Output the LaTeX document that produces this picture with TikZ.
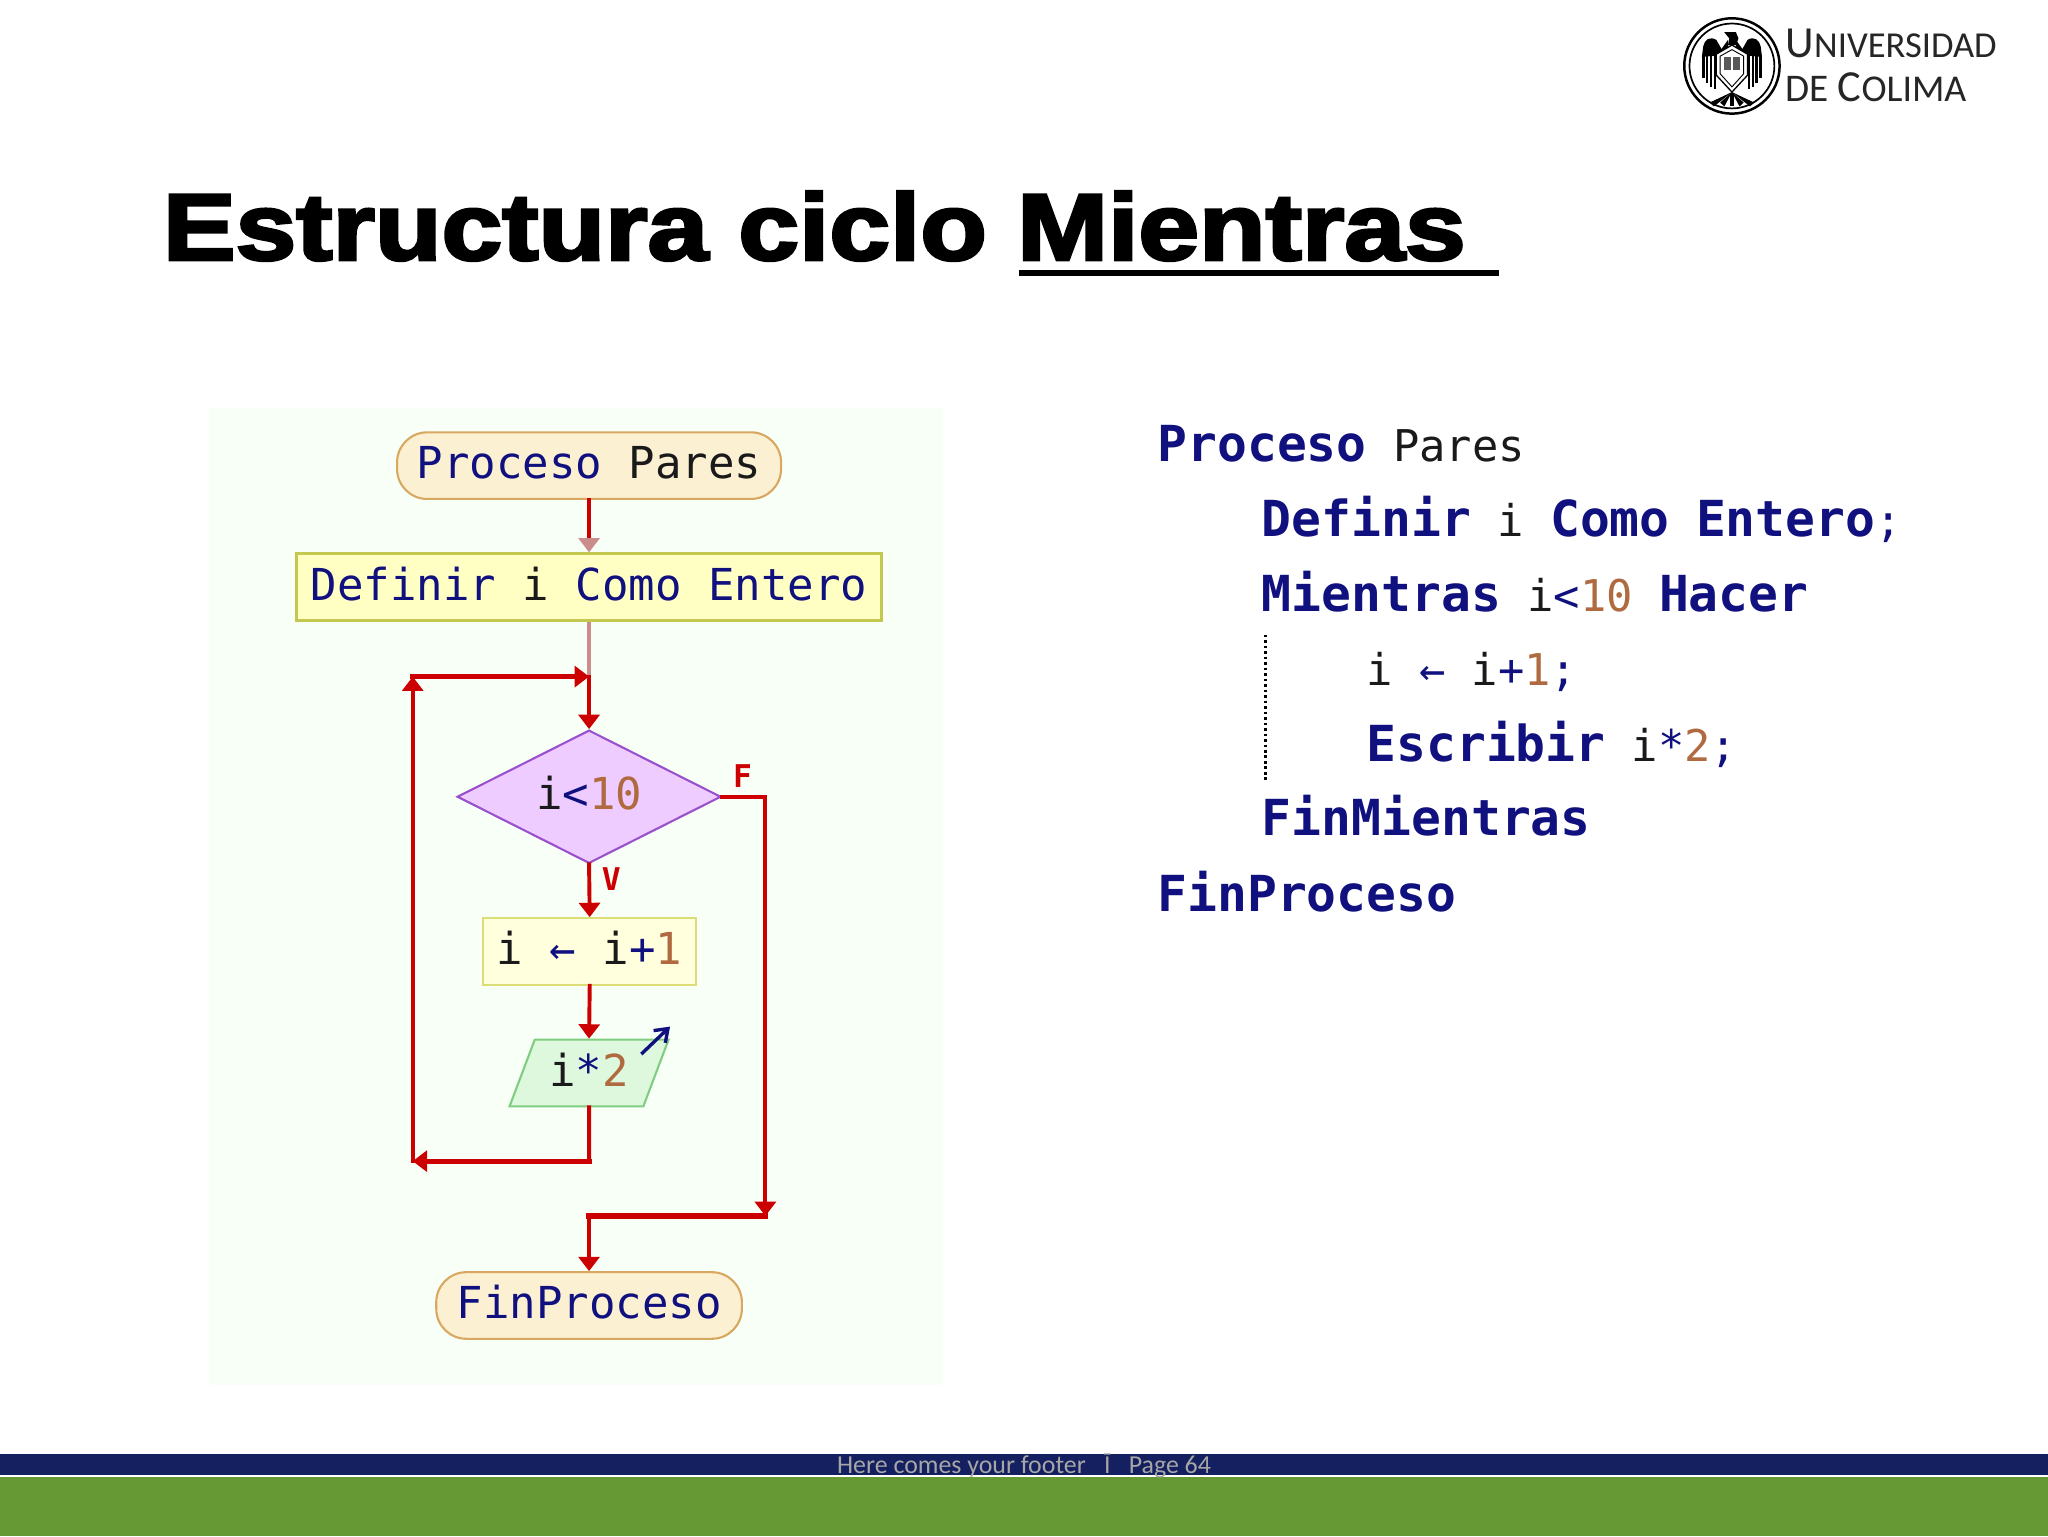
\documentclass[tikz,border=0pt]{standalone}
\usepackage{fontspec}
\usepackage{graphicx}
\usetikzlibrary{arrows.meta,shapes.geometric}
\setmainfont{Liberation Sans}
\newfontfamily\titlefont{Liberation Sans}[BoldFeatures={FakeBold=2.9}]
\newfontfamily\flowfont{DejaVu Sans Mono}
\newfontfamily\footfont{Carlito}
\newfontfamily\logofont{Carlito}
\definecolor{kw}{HTML}{10107F}
\definecolor{idn}{HTML}{1A1A1A}
\definecolor{num}{HTML}{B06A40}
\definecolor{lnk}{HTML}{CC0000}
\definecolor{pale}{HTML}{CB8C8C}
\definecolor{panel}{HTML}{F7FFF7}
\definecolor{navybar}{HTML}{142060}
\definecolor{greenbar}{HTML}{669933}
\definecolor{termfill}{HTML}{FBF0D2}
\definecolor{termline}{HTML}{D8A860}
\definecolor{deffill}{HTML}{FFFFC4}
\definecolor{defline}{HTML}{C4C850}
\definecolor{condfill}{HTML}{EECCFF}
\definecolor{condline}{HTML}{9A50CC}
\definecolor{incfill}{HTML}{FFFFDD}
\definecolor{incline}{HTML}{DDDD77}
\definecolor{outfill}{HTML}{DDF8DD}
\definecolor{outline}{HTML}{80CC80}
\newcommand{\K}[1]{\textcolor{kw}{#1}}
\newcommand{\I}[1]{\textcolor{idn}{#1}}
\newcommand{\N}[1]{\textcolor{num}{#1}}
\newcommand{\RG}{\mdseries\fontsize{33.5}{38}\selectfont}
\newcommand{\BD}{\bfseries\fontsize{38}{38}\selectfont}
\tikzset{
  x=1pt,y=-1pt,
  box/.style={draw,line width=1.6pt,inner sep=0pt,text height=28pt,text depth=8pt,font=\flowfont\fontsize{33.7}{36}\selectfont,text=kw},
  terminal/.style={box,rectangle,rounded corners=23pt,fill=termfill,draw=termline,minimum height=51pt},
  link/.style={draw=lnk,line width=3pt,line cap=rect},
  linkh/.style={draw=lnk,line width=4pt,line cap=rect},
  tip/.style={-{Triangle[length=11pt,width=16pt,fill=lnk,color=lnk]}},
  ptip/.style={-{Triangle[length=11pt,width=16pt,fill=pale,color=pale]}},
  lab/.style={text=lnk,font=\flowfont\bfseries\fontsize{24}{26}\selectfont,inner sep=0pt},
  codeline/.style={anchor=base west,inner sep=0pt,font=\flowfont\BD,text=kw},
}
\begin{document}
\begin{tikzpicture}
\useasboundingbox (0,0) rectangle (1568,1176);
\fill[white] (0,0) rectangle (1568,1176);
% title
\node[anchor=base west,inner sep=0pt,font=\titlefont\bfseries\fontsize{72.6}{76}\selectfont] (title) at (124.5,199) {\scalebox{1.15}[1]{Estructura ciclo Mientras}};
\fill[black] (780,206.5) rectangle (1148,211);
% footer
\fill[navybar] (0,1113) rectangle (1568,1129);
\fill[greenbar] (0,1131) rectangle (1568,1176);
\node[anchor=base,inner sep=0pt,font=\footfont\fontsize{19.8}{21}\selectfont,text=gray!70] (foot) at (784,1128) {Here comes your footer\hspace{14pt}Ī\hspace{14pt}Page 64};
% panel
\fill[panel] (160,312) rectangle (722,1060);
% flow nodes
\node[terminal,minimum width=294pt] (start) at (451,356.5) {\K{Proceso} \I{Pares}};
\node[box,rectangle,fill=deffill,draw=defline,line width=2.2pt,minimum width=448pt,minimum height=51pt] (def) at (451,449.5) {\K{Definir} \I{i} \K{Como Entero}};
\node[box,diamond,aspect=2,fill=condfill,draw=condline,minimum width=202pt,minimum height=102pt] (cond) at (451,610) {\I{i}\K{<}\N{10}};
\node[box,rectangle,fill=incfill,draw=incline,minimum width=163pt,minimum height=51pt] (inc) at (451.5,728.5) {\I{i} \K{←} \I{i}\K{+}\N{1}};
\node[box,trapezium,trapezium left angle=68.6,trapezium right angle=111.4,trapezium stretches=true,fill=outfill,draw=outline,minimum width=122pt,minimum height=51pt] (out) at (451,821.5) {\I{i}\K{*}\N{2}};
\node[terminal,minimum width=234pt] (fin) at (451,999.5) {\K{FinProceso}};
% joints
\coordinate (top) at (451,518);
\coordinate (tl) at (316,518);
\coordinate (bl) at (316,889);
\coordinate (bm) at (451,889);
\coordinate (fr) at (586,610);
\coordinate (br) at (586,931);
\coordinate (bj) at (451,931);
% connectors
\draw[link,ptip] (start) -- (def);
\draw[draw=pale,line width=2.6pt] (def) -- (top);
\draw[link,tip] (top) -- (cond.north);
\draw[link,tip] (cond.south) -- (inc.north);
\draw[link,tip] (inc.south) -- (out.north);
\draw[link] (out.south) -- (bm);
\draw[linkh,tip] (bm) -- (bl);
\draw[link,tip] (bl) -- (tl);
\draw[linkh,tip] (tl) -- (top);
\draw[link] (cond.east) -- (fr);
\draw[link,tip] (fr) -- (br);
\draw[linkh] (br) -- (bj);
\draw[link,tip] (bj) -- (fin.north);
\node[lab] (labf) at (568.5,594) {F};
\node[lab] (labv) at (468,673) {V};
% output arrow
\draw[draw=kw,line width=2.6pt,-{Straight Barb[length=9pt,width=13pt]}] (491,807) -- (513,786);
% code listing
\node[codeline] (c1) at (886,353) {Proceso\RG{} \I{Pares}};
\node[codeline] (c2) at (966,411) {Definir\RG{} \I{i} \BD Como\RG{} \BD Entero\RG{}\K{;}};
\node[codeline] (c3) at (966,468) {Mientras\RG{} \I{i}\K{<}\N{10} \BD Hacer};
\node[codeline] (c4) at (1046,525) {\RG\I{i} \K{←} \I{i}\K{+}\N{1}\K{;}};
\node[codeline] (c5) at (1046,583) {Escribir\RG{} \I{i}\K{*}\N{2}\K{;}};
\node[codeline] (c6) at (966,640) {FinMientras};
\node[codeline] (c7) at (886,698) {FinProceso};
\draw[black,line width=2pt,dash pattern=on 2pt off 2.2pt] (969,486) -- (969,597);
% logo
\draw[black,line width=1.9pt] (1326,50.5) circle (36.5);
\draw[black,line width=1.3pt] (1326,50.5) circle (32.5);
\begin{scope}[shift={(1326,50.5)}]
 \foreach \s in {1,-1}{
  \begin{scope}[xscale=\s]
   \fill[black] (3,-20) -- (8,-13) -- (12,-20) .. controls (17,-23) and (21,-20) .. (22,-15) -- (23,-7) -- (10,-8) -- (3,-13) -- cycle;
   \foreach \xx/\yy in {23/17,20/21,17/24,14/26}{
     \fill[black] (\xx,-8) rectangle ++(-2,\yy);
   }
   \foreach \aa in {8,16}{
     \fill[black] (0,20) -- ({\aa-2.2},31) -- ({\aa+1},28) -- cycle;
   }
  \end{scope}}
 \fill[black] (-1.5,21) rectangle (1.5,31);
 \fill[black] (-6,-26) -- (3,-26) -- (5,-21) -- (3,-16) -- (-3,-16) -- (-2,-21) -- cycle;
 \draw[black,fill=white,line width=1pt] (-12,-9) -- (0,-16) -- (12,-9) -- (12,7) -- (0,20) -- (-12,7) -- cycle;
 \draw[black,line width=.7pt] (-9,-7.5) -- (0,-12.5) -- (9,-7.5) -- (9,6) -- (0,16) -- (-9,6) -- cycle;
 \fill[gray!70!black] (-6,-7) rectangle (-.8,3);
 \fill[gray!70!black] (.8,-7) rectangle (6,3);
\end{scope}
\node[anchor=base west,inner sep=0pt,font=\logofont\fontsize{34}{38}\selectfont,text=black!85] (logo1) at (1367,44) {U{\fontsize{28}{32}\selectfont NIVERSIDAD}};
\node[anchor=base west,inner sep=0pt,font=\logofont\fontsize{30}{36}\selectfont,text=black!85] (logo2) at (1367,78) {DE {\fontsize{34}{36}\selectfont C}{\fontsize{29}{32}\selectfont OLIMA}};
\end{tikzpicture}
\end{document}
